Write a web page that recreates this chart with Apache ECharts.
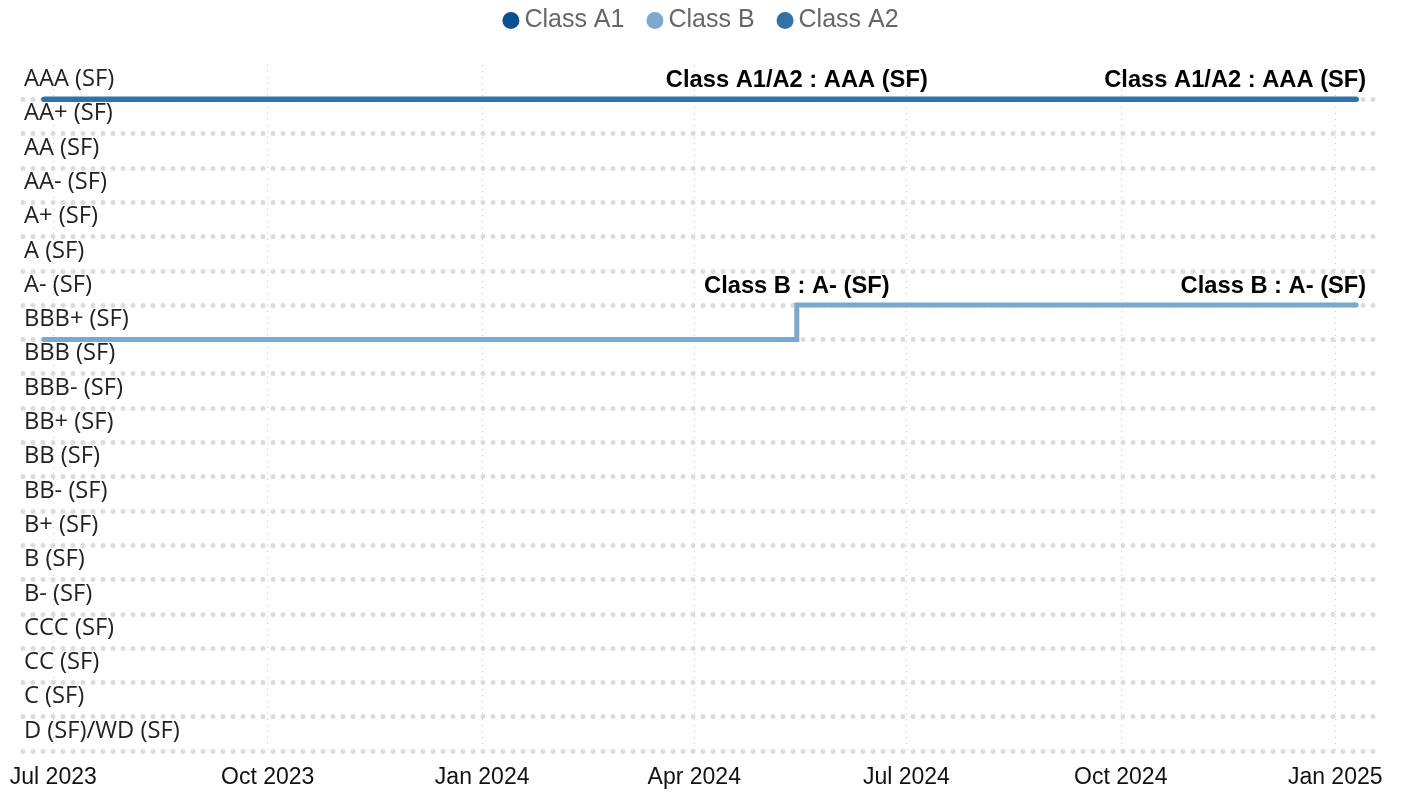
<!DOCTYPE html>
<html><head><meta charset="utf-8">
<script src="https://cdn.jsdelivr.net/npm/echarts@6/dist/echarts.min.js"></script>
<style>html,body{margin:0;padding:0;background:#fff}#c{width:1401px;height:796px}</style>
</head><body><div id="c"></div>
<script>
// ---- data ----
const ratingLabels = ['D (SF)/WD (SF)','C (SF)','CC (SF)','CCC (SF)','B- (SF)','B (SF)','B+ (SF)','BB- (SF)','BB (SF)','BB+ (SF)','BBB- (SF)','BBB (SF)','BBB+ (SF)','A- (SF)','A (SF)','A+ (SF)','AA- (SF)','AA (SF)','AA+ (SF)','AAA (SF)'];
const seriesNames = ['Class A1','Class B','Class A2'];
const dates = ['2023-06-27','2024-05-15','2025-01-10'];
const classA1 = [19, 19, 19];
const classB = [12, 13, 13];
const classA2 = [19, 19, 19];
const annotA = ['', 'Class A1/A2 : AAA (SF)', 'Class A1/A2 : AAA (SF)'];
const annotB = ['', 'Class B : A- (SF)', 'Class B : A- (SF)'];
const tickDates = ['2023-07-01','2023-10-01','2024-01-01','2024-04-01','2024-07-01','2024-10-01','2025-01-01'];
const tickLabels = ['Jul 2023','Oct 2023','Jan 2024','Apr 2024','Jul 2024','Oct 2024','Jan 2025'];
const axisRange = ['2023-06-18T00:00:00','2025-01-18T12:00:00'];

// ---- helpers ----
const t = s => new Date(s.length === 10 ? s + 'T00:00:00' : s).getTime();
const colors = ['#0b4f91', '#7ca8cc', '#3471a6'];
const tickVals = tickDates.map(t);

function annLabel(text, last) {
  if (!text) return undefined;
  const l = {
    show: true, position: 'top', distance: 7, formatter: text,
    fontFamily: '"Liberation Sans", Arial, sans-serif', fontWeight: 'bold',
    fontSize: 23.7, color: '#000'
  };
  if (last) { l.align = 'right'; l.offset = [10, 0]; }
  return l;
}
function build(vals, ann) {
  return vals.map((v, i) => {
    const item = { value: [t(dates[i]), v] };
    const lab = annLabel(ann && ann[i], i === vals.length - 1);
    if (lab) item.label = lab;
    return item;
  });
}
function lineSeries(name, vals, color, ann, step) {
  return {
    name, type: 'line', data: build(vals, ann), step: step || false,
    symbol: 'circle', symbolSize: 0, showSymbol: true,
    lineStyle: { color, width: 5, cap: 'round', join: 'miter' },
    itemStyle: { color },
    emphasis: { disabled: true }, silent: true
  };
}

const chart = echarts.init(document.getElementById('c'), null, { renderer: 'canvas' });
chart.setOption({
  animation: false,
  color: colors,
  legend: {
    top: 3, left: 'center', icon: 'circle', itemWidth: 17, itemHeight: 17, itemGap: 22,
    textStyle: { color: '#666', fontSize: 25, fontFamily: '"Liberation Sans", Arial, sans-serif' },
    data: seriesNames
  },
  grid: { left: 23, right: 25, top: 65, bottom: 45, containLabel: false },
  xAxis: {
    type: 'value', min: t(axisRange[0]), max: t(axisRange[1]),
    axisLine: { show: false },
    axisTick: { show: false, customValues: tickVals },
    axisLabel: {
      customValues: tickVals, margin: 15,
      fontSize: 23, color: '#111', fontFamily: '"Liberation Sans", Arial, sans-serif',
      formatter: v => { const i = tickVals.indexOf(v); return i >= 0 ? tickLabels[i] : ''; },
      hideOverlap: false
    },
    splitLine: { show: true, lineStyle: { color: '#c8c8c8', width: 1, type: [1, 5] } }
  },
  yAxis: {
    type: 'value', min: 0, max: 20, interval: 1,
    axisLine: { show: false }, axisTick: { show: false },
    axisLabel: {
      inside: true, margin: 1, verticalAlign: 'bottom', padding: [0, 0, 8, 0],
      fontSize: 23.7, color: '#222', fontFamily: '"Open Sans", "Noto Sans", sans-serif',
      formatter: v => ratingLabels[v] || ''
    },
    splitLine: { show: true, showMaxLine: false, lineStyle: { color: '#dcdcdc', width: 5, type: [0, 10], cap: 'round' } }
  },
  series: [
    lineSeries(seriesNames[0], classA1, colors[0], null),
    lineSeries(seriesNames[1], classB, colors[1], annotB, 'end'),
    lineSeries(seriesNames[2], classA2, colors[2], annotA)
  ]
});
</script>
</body></html>
